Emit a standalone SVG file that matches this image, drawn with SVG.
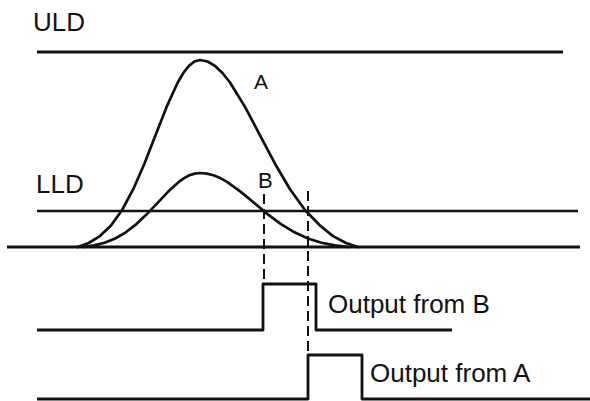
<svg xmlns="http://www.w3.org/2000/svg" width="590" height="401" viewBox="0 0 590 401">
<style>
.ln{stroke:#111;stroke-width:2.4;fill:none;stroke-linejoin:round;stroke-linecap:butt}
.cv{stroke:#111;stroke-width:2.7;fill:none;stroke-linejoin:round;stroke-linecap:round}
.ds{stroke:#111;stroke-width:2;fill:none;stroke-dasharray:10 5}
.t{font-family:"Liberation Sans",Arial,sans-serif;fill:#111}
</style>
<rect width="590" height="401" fill="#fff"/>
<g id="levels">
<line class="ln" x1="37" y1="52" x2="563" y2="52" style="stroke-width:2.8"/>
<line class="ln" x1="37" y1="211" x2="578" y2="211"/>
<line class="ln" x1="7" y1="247" x2="580" y2="247" style="stroke-width:2.8"/>
</g>
<g id="labels">
<text class="t" x="33" y="31" font-size="26">ULD</text>
<text class="t" x="36" y="193" font-size="26">LLD</text>
<text class="t" x="254" y="89" font-size="21">A</text>
<text class="t" x="258" y="188" font-size="22">B</text>
</g>
<g id="curveA">
<polyline class="cv" points="77.6,247 88.75,243 99.9,236.1 111,225.5 122.1,210 133.25,189.2 144.4,163.7 155.5,135.3 166.6,106.9 177.75,82.5 183.3,73 188.9,65.9 194.4,61.5 200,60 207.5,61.5 215,65.9 222.5,73 230,82.5 245,106.9 260,135.3 275,163.7 290,189.2 305,210 320,225.5 333,236.1 346,243 358,247"/>
</g>
<g id="curveB">
<polyline class="cv" points="83.4,247 94,245.4 104.6,242.7 115.2,238.5 125.8,232.3 136.4,224.1 147,214.1 157.6,202.8 168.2,191.6 178.8,181.9 184.1,178.1 189.4,175.3 194.7,173.6 200,173 206.75,173.6 213.5,175.3 220.25,178.1 227,181.9 240.5,191.6 254,202.8 267.5,214.1 281,224.1 294.5,232.3 308,238.5 321.5,242.7 335,245.4 348.5,247"/>
</g>
<g id="connectors">
<line class="ds" x1="264" y1="194" x2="264" y2="284"/>
<line class="ds" x1="308" y1="191" x2="308" y2="355"/>
</g>
<g id="outputB">
<polyline class="ln" points="37,330 263,330 263,284 316,284 316,330 452,330" style="stroke-width:2.8"/>
<text class="t" x="328" y="313" font-size="26">Output from B</text>
</g>
<g id="outputA">
<polyline class="ln" points="37,399 308,399 308,355 362,355 362,399 590,399" style="stroke-width:2.8"/>
<text class="t" x="370" y="382" font-size="26">Output from A</text>
</g>
</svg>
